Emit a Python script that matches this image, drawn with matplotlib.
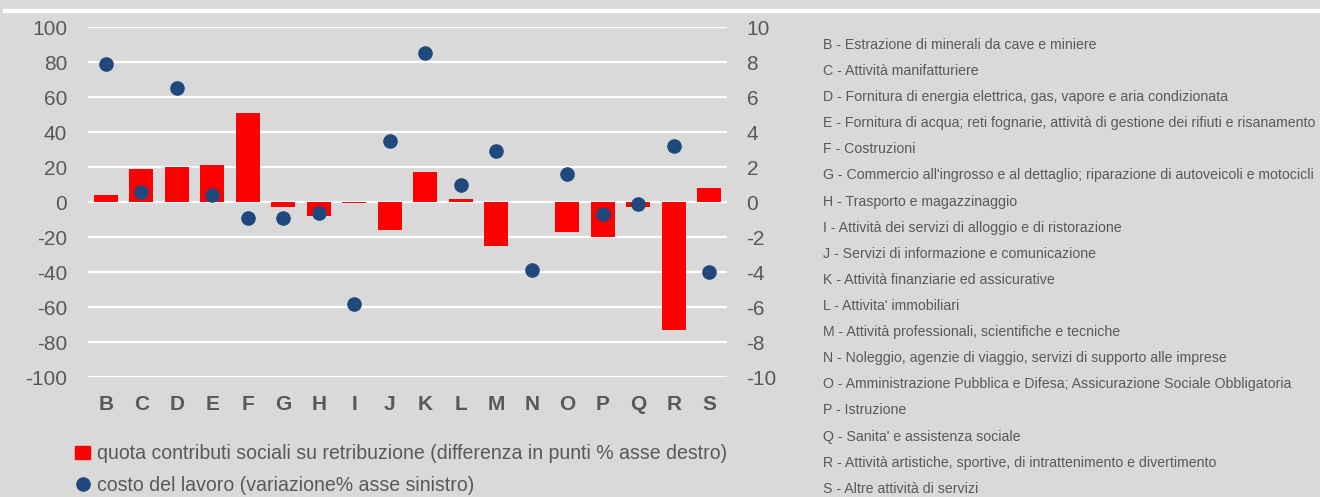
import matplotlib.pyplot as plt
from matplotlib.lines import Line2D
from matplotlib.patches import Patch

plt.rcParams['font.family'] = ['Liberation Sans', 'DejaVu Sans']
plt.rcParams['axes.unicode_minus'] = False

# dati
settori = ['B', 'C', 'D', 'E', 'F', 'G', 'H', 'I', 'J', 'K', 'L', 'M', 'N', 'O', 'P', 'Q', 'R', 'S']
quota_contributi = [0.4, 1.9, 2.0, 2.1, 5.1, -0.3, -0.8, -0.05, -1.6, 1.7, 0.15, -2.5, 0.0,
                    -1.7, -2.0, -0.3, -7.3, 0.8]  # punti %, asse destro
costo_lavoro = [79, 5.5, 65, 4, -9, -9, -6, -58, 35, 85, 10, 29, -39, 16, -7, -1, 32, -40]  # var %, asse sinistro
descrizioni = [
    "B - Estrazione di minerali da cave e miniere",
    "C - Attività manifatturiere",
    "D - Fornitura di energia elettrica, gas, vapore e aria condizionata",
    "E - Fornitura di acqua; reti fognarie, attività di gestione dei rifiuti e risanamento",
    "F - Costruzioni",
    "G - Commercio all'ingrosso e al dettaglio; riparazione di autoveicoli e motocicli",
    "H - Trasporto e magazzinaggio",
    "I - Attività dei servizi di alloggio e di ristorazione",
    "J - Servizi di informazione e comunicazione",
    "K - Attività finanziarie ed assicurative",
    "L - Attivita' immobiliari",
    "M - Attività professionali, scientifiche e tecniche",
    "N - Noleggio, agenzie di viaggio, servizi di supporto alle imprese",
    "O - Amministrazione Pubblica e Difesa; Assicurazione Sociale Obbligatoria",
    "P - Istruzione",
    "Q - Sanita' e assistenza sociale",
    "R - Attività artistiche, sportive, di intrattenimento e divertimento",
    "S - Altre attività di servizi",
]
legenda = ["quota contributi sociali su retribuzione (differenza in punti % asse destro)",
           "costo del lavoro (variazione% asse sinistro)"]

bg = '#d9d9d9'
grey = '#595959'
red = '#ff0000'
blue = '#1f497d'

fig = plt.figure(figsize=(13.2, 4.97), dpi=100, facecolor=bg)
renderer = fig.canvas.get_renderer()


def fit_size(s, width_px, base=12):
    # dimensione del font per far stare il testo nella larghezza data
    t = fig.text(0, 0, s, fontsize=base)
    w = t.get_window_extent(renderer).width
    t.remove()
    return base * width_px / w


ax = fig.add_axes([0.0667, 0.2414, 0.4841, 0.7042])
ax2 = ax.twinx()

x = range(len(settori))
ax2.bar(x, quota_contributi, width=0.68, color=red, zorder=2)
ax.plot(x, costo_lavoro, 'o', color=blue, markersize=9.5, zorder=3)

# punti sopra le barre
ax.set_zorder(ax2.get_zorder() + 1)
ax.patch.set_visible(False)
ax2.patch.set_facecolor(bg)

ax.set_ylim(-100, 100)
ax2.set_ylim(-10, 10)
ax.set_xlim(-0.5, len(settori) - 0.5)
ax.set_yticks(range(-100, 101, 20))
ax2.set_yticks(range(-10, 11, 2))
ax.set_xticks(list(x))
ax.set_xticklabels(settori, fontweight='bold')

for a in (ax, ax2):
    for s in a.spines.values():
        s.set_visible(False)
    a.tick_params(length=0, labelcolor=grey, labelsize=15)
ax.tick_params(axis='y', pad=15)
ax2.tick_params(axis='y', pad=14)
ax.tick_params(axis='x', pad=13)

for v in range(-10, 11, 2):
    ax2.axhline(v, color='white', lw=1.6, zorder=0)

# linea bianca in alto
fig.add_artist(Line2D([0.004, 1.0], [0.978, 0.978], color='white', lw=3))

leg_size = fit_size(legenda[0], 632)
handles = [Patch(color=red), Line2D([], [], marker='o', ls='', color=blue, markersize=9.5)]
fig.legend(handles, legenda, loc='upper left', bbox_to_anchor=(0.057, 0.106), frameon=False,
           fontsize=leg_size, labelcolor=grey, handlelength=0.75, handletextpad=0.35,
           labelspacing=0.65, borderaxespad=0, borderpad=0)

desc_size = fit_size(descrizioni[3], 493)
for i, d in enumerate(descrizioni):
    fig.text(823 / 1320, 1 - (45 + i * 26.1) / 497, d, fontsize=desc_size, color=grey,
             va='center', ha='left')

fig.savefig('out.png', dpi=100, facecolor=bg)
